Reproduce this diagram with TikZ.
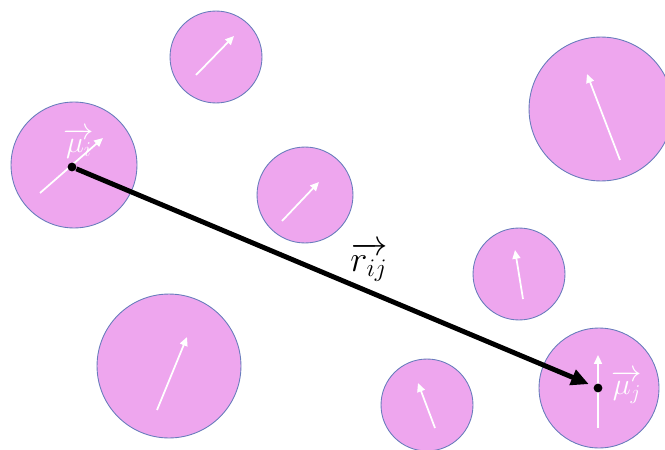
\documentclass[tikz,border=0pt]{standalone}
\usetikzlibrary{arrows.meta}
\usepackage{amsmath}
\definecolor{rosa}{RGB}{238,166,238}
\definecolor{bordo}{RGB}{104,124,188}

\begin{document}
\begin{tikzpicture}[
  x=0.02cm, y=-0.02cm,
  particella/.style={circle, draw=bordo, fill=rosa, line width=0.5pt, inner sep=0pt},
  momento/.style={draw=white, line width=1pt, -{Triangle[length=5pt,width=4.5pt]}},
  punto/.style={circle, fill=black, inner sep=0pt, minimum size=5pt},
  distanza/.style={draw=black, line width=2.8pt, -{Triangle[length=10pt,width=9pt]}, shorten >=3pt},
  etichetta/.style={text=white, font=\LARGE}
]
\useasboundingbox (0,0) rectangle (665,449);

% particelle con momento magnetico
\foreach \n/\x/\y/\r/\ax/\ay/\bx/\by in {
    a/216/57/46/196/75/234/36,
    i/74/165/63/40/193/103/138,
    b/305/195/48/282/221/319/182,
    c/601/109/72/620/160/587/74,
    d/519/274/46/523/299/515/250,
    e/169/366/72/157/410/187/337,
    f/427/405/46/435/428/418/383,
    j/599/388/60/598/428/598/355} {
  \node[particella, minimum size={0.04cm*\r}] (P\n) at (\x,\y) {};
  \coordinate (A\n) at (\ax,\ay);
  \coordinate (B\n) at (\bx,\by);
  \draw[momento] (A\n) -- (B\n);
}

\node[punto] (Di) at (72,167) {};
\node[punto] (Dj) at (598,388) {};
\draw[distanza] (Di) -- (Dj);

\node[etichetta] (Mi) at (79,143) {$\overrightarrow{\mu_i}$};
\node[etichetta] (Mj) at (627,387) {$\overrightarrow{\mu_j}$};
\node[font=\huge] (Rij) at (369,262) {$\overrightarrow{r_{ij}}$};

\end{tikzpicture}
\end{document}
